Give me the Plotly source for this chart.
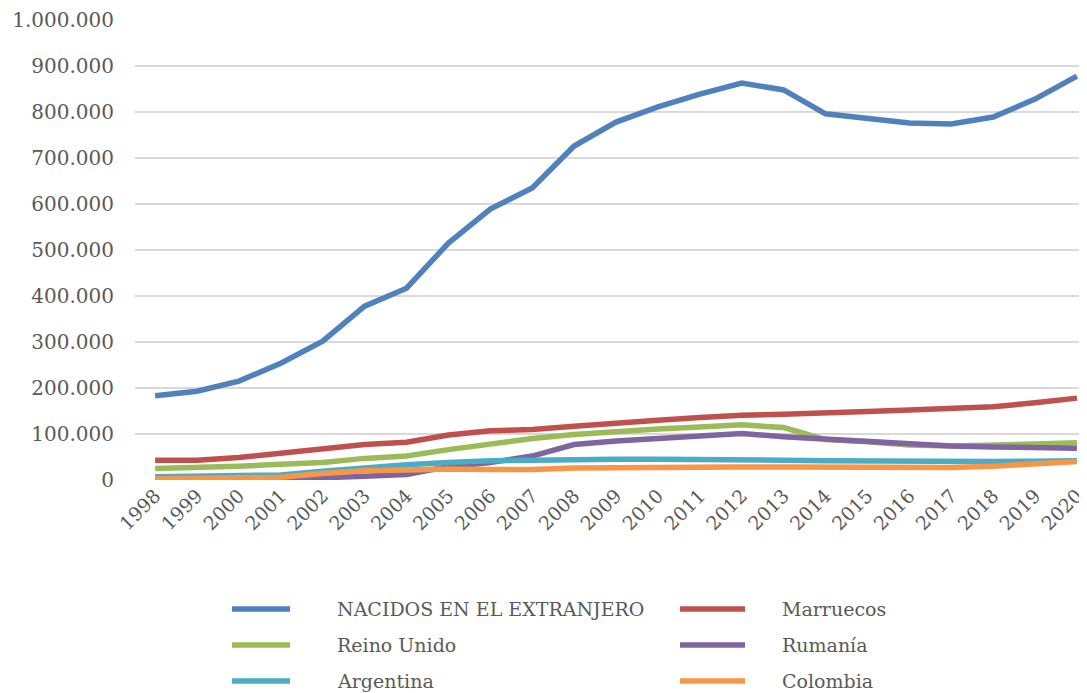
import plotly.graph_objects as go

years = list(range(1998, 2021))

nacidos_extranjero = [183000, 193000, 215000, 254000, 302000, 378000, 417000, 515000, 589000, 635000,
                      726000, 778000, 811000, 839000, 863000, 848000, 796000, 787000, 776000, 774000,
                      789000, 828000, 878000]
marruecos = [43000, 43000, 49000, 58000, 66000, 77000, 82000, 98000, 107000, 110000,
             117000, 125000, 130000, 136000, 141000, 143000, 145000, 149000, 152000, 155000,
             159000, 168000, 178000]
reino_unido = [25000, 27000, 30000, 34000, 38000, 47000, 52000, 66000, 79000, 90000,
               99000, 106000, 111000, 115000, 120000, 114000, 88000, 83000, 76000, 74000,
               75000, 78000, 81000]
rumania = [1000, 1500, 2000, 2500, 5000, 8000, 12000, 29000, 38000, 52000,
           77000, 85000, 90000, 96000, 101000, 94000, 89000, 84000, 78000, 74000,
           72000, 71000, 69000]
argentina = [7000, 8000, 9000, 11000, 19000, 27000, 33000, 38000, 42000, 43000,
             45000, 45000, 45000, 45000, 44000, 43000, 42000, 41000, 40000, 40000,
             40000, 41000, 42000]
colombia = [2000, 3000, 4000, 6000, 14000, 20000, 22000, 24000, 23000, 23000,
            26000, 27000, 27000, 28000, 28000, 28000, 28000, 28000, 27000, 27000,
            30000, 34000, 40000]

series_names = ["NACIDOS EN EL EXTRANJERO", "Marruecos", "Reino Unido", "Rumanía", "Argentina", "Colombia"]
series_values = [nacidos_extranjero, marruecos, reino_unido, rumania, argentina, colombia]
colors = ["#4F81BD", "#C0504D", "#9BBB59", "#8064A2", "#4BACC6", "#F79646"]

y_ticks = list(range(0, 1000001, 100000))

FONT = "DejaVu Serif"
GREY = "#595959"

fig = go.Figure()
for i in range(len(series_names)):
    fig.add_trace(go.Scatter(
        x=years, y=series_values[i], name=series_names[i], mode="lines",
        line=dict(color=colors[i], width=5.5, shape="linear"),
        showlegend=False,
    ))

# custom legend (two columns, three rows)
legend_cols = [(0.1019, 0.1628, 0.2101), (0.5725, 0.6408, 0.6775)]
legend_rows = [-0.2804, -0.3587, -0.437]
for i, name in enumerate(series_names):
    col = legend_cols[i % 2]
    row = legend_rows[i // 2]
    fig.add_shape(type="line", xref="paper", yref="paper",
                  x0=col[0], x1=col[1], y0=row, y1=row,
                  line=dict(color=colors[i], width=5.5))
    fig.add_annotation(xref="paper", yref="paper", x=col[2], y=row,
                       text=name, showarrow=False, xanchor="left", yanchor="middle",
                       font=dict(family=FONT, size=19, color=GREY))

fig.update_layout(
    width=1079, height=685,
    margin=dict(l=127, r=0, t=12, b=213),
    plot_bgcolor="white", paper_bgcolor="white",
    separators=",.",
    font=dict(family=FONT, size=19, color=GREY),
    xaxis=dict(
        range=[1997.52, 2020.24], tickmode="array", tickvals=years,
        ticktext=[str(y) for y in years], tickangle=-45,
        showgrid=False, zeroline=False, showline=False,
        tickfont=dict(family=FONT, size=19, color=GREY),
    ),
    yaxis=dict(
        range=[0, 1000000], tickmode="array", tickvals=y_ticks,
        tickformat=",d", showgrid=True, gridcolor="#D9D9D9", gridwidth=2,
        zeroline=False, showline=False,
        ticklabelstandoff=20,
        tickfont=dict(family=FONT, size=20, color=GREY),
    ),
)

fig.write_html("out.html")
